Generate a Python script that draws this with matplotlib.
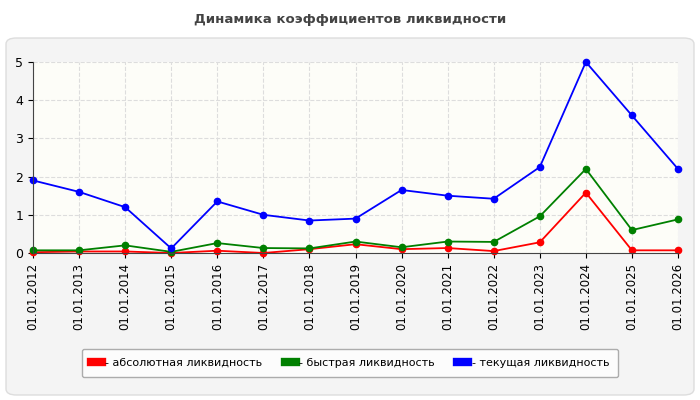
import matplotlib
matplotlib.use("Agg")
import matplotlib.pyplot as plt
from matplotlib.patches import FancyBboxPatch

years = ["01.01.%d" % y for y in range(2012, 2027)]
absolute = [0.02,0.04,0.04,0.0,0.06,0.0,0.1,0.23,0.1,0.13,0.05,0.28,1.58,0.07,0.07]
quick = [0.07,0.07,0.2,0.03,0.26,0.13,0.12,0.3,0.15,0.3,0.29,0.96,2.2,0.6,0.88]
current = [1.9,1.6,1.2,0.12,1.35,1.0,0.85,0.9,1.65,1.5,1.42,2.25,5.0,3.6,2.2]
labels = ["- абсолютная ликвидность", "- быстрая ликвидность", "- текущая ликвидность"]

fig = plt.figure(figsize=(7, 4), dpi=100)
fig.patch.set_facecolor("white")
panel = FancyBboxPatch((6/700, 5/400), 688/700, 357/400, boxstyle="round,pad=0,rounding_size=0.015",
                       transform=fig.transFigure, facecolor="#f4f4f4", edgecolor="#dddddd", lw=1,
                       zorder=-10)
fig.patches.append(panel)
fig.text(0.5, 1-20/400, "Динамика коэффициентов ликвидности", ha="center", va="center",
         fontsize=9.5, fontweight="bold", color="#444444")

ax = fig.add_axes([33/700, 1-253/400, 645/700, 191/400])
ax.set_facecolor("#fdfdf8")
x = list(range(len(years)))
for vals, c, l in [(absolute, "red", labels[0]), (quick, "green", labels[1]), (current, "blue", labels[2])]:
    ax.plot(x, vals, color=c, lw=1.3, marker="o", ms=4.5, label=l, clip_on=False)
ax.set_xlim(0, len(years)-1)
ax.set_ylim(0, 5)
ax.set_xticks(x)
ax.set_xticklabels(years, rotation=90, fontsize=8.5)
ax.set_yticks(range(6))
ax.tick_params(axis="y", labelsize=9)
ax.grid(True, color="#dddddd", ls="--", lw=0.8)
for s in ["top", "right"]:
    ax.spines[s].set_visible(False)
ax.spines["left"].set_color("#444444")
ax.spines["bottom"].set_color("#444444")

h, l = ax.get_legend_handles_labels()
leg = fig.legend(h, l, loc="center", bbox_to_anchor=(350/700, 1-363/400), ncol=3, fontsize=8,
                 frameon=True, fancybox=True, edgecolor="#999999", handlelength=1.0,
                 columnspacing=2.0, borderpad=0.8, handletextpad=0.3)
for lh in leg.legend_handles:
    lh.set_linewidth(6)
    lh.set_marker("")
fig.savefig("out.png", dpi=100)
